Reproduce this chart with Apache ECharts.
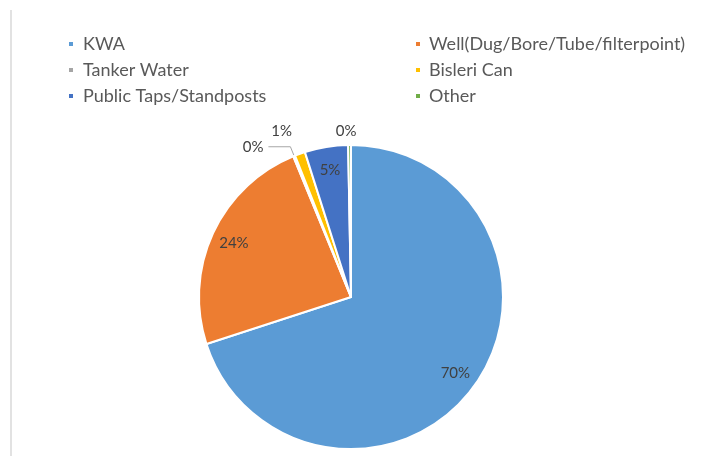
<!DOCTYPE html>
<html>
<head>
<meta charset="utf-8">
<script src="https://cdn.jsdelivr.net/npm/echarts@6/dist/echarts.min.js"></script>
<style>
html,body{margin:0;padding:0;background:#fff;}
#chart{width:719px;height:456px;}
</style>
</head>
<body>
<div id="chart"></div>
<script>
var categories = ['KWA', 'Well(Dug/Bore/Tube/filterpoint)', 'Tanker Water', 'Bisleri Can', 'Public Taps/Standposts', 'Other'];
var values = [70.0, 23.8, 0.2, 1.1, 4.6, 0.3];
var colors = ['#5B9BD5', '#ED7D31', '#A5A5A5', '#FFC000', '#4472C4', '#70AD47'];
var legendCol1 = ['KWA', 'Tanker Water', 'Public Taps/Standposts'];
var legendCol2 = ['Well(Dug/Bore/Tube/filterpoint)', 'Bisleri Can', 'Other'];

var FONT = 'Lato';
function pct(p) { return Math.round(p.percent) + '%'; }

// outside-label settings for the small slices (by index)
var outsideCfg = {
  2: { len: 10, len2: 22, line: true, dist: 5 },
  3: { len: 24, len2: 0, line: false, dist: 0 },
  5: { len: 14, len2: 0, line: false, dist: -7 }
};

var mainData = categories.map(function (c, i) {
  var cfg = outsideCfg[i];
  var item = { name: c, value: values[i], itemStyle: { color: colors[i] } };
  if (cfg) {
    item.label = { show: true, position: 'outside', distanceToLabelLine: cfg.dist };
    item.labelLine = { show: cfg.line, length: cfg.len, length2: cfg.len2 };
  } else {
    item.label = { show: false };
    item.labelLine = { show: false };
  }
  return item;
});

var overlayData = categories.map(function (c, i) {
  return { name: c, value: values[i], label: { show: !outsideCfg[i] } };
});

var chart = echarts.init(document.getElementById('chart'), null, { renderer: 'canvas' });
var legendBase = {
  orient: 'vertical', icon: 'rect', itemWidth: 6, itemHeight: 6, itemGap: 8,
  padding: 0, top: 35, selectedMode: false,
  textStyle: { fontFamily: FONT, fontSize: 18, lineHeight: 18, color: '#595959' }
};
chart.setOption({
  animation: false,
  backgroundColor: '#ffffff',
  color: colors,
  graphic: [{
    type: 'line', shape: { x1: 11, y1: 10, x2: 11, y2: 456 },
    style: { stroke: '#d9d9d9', lineWidth: 1.5 }, silent: true
  }],
  legend: [
    Object.assign({}, legendBase, { left: 67, data: legendCol1,
      textStyle: Object.assign({}, legendBase.textStyle, { padding: [0, 0, 0, 4] }) }),
    Object.assign({}, legendBase, { left: 414, data: legendCol2,
      textStyle: Object.assign({}, legendBase.textStyle, { padding: [0, 0, 0, 3] }) })
  ],
  series: [{
    type: 'pie',
    name: 'main',
    center: [351, 297],
    radius: 152,
    startAngle: 90,
    clockwise: true,
    avoidLabelOverlap: false,
    itemStyle: { borderColor: '#ffffff', borderWidth: 2 },
    label: { formatter: pct, fontFamily: FONT, fontSize: 15, color: '#404040' },
    labelLine: { lineStyle: { color: '#A6A6A6', width: 1 }, smooth: false },
    emphasis: { disabled: true },
    data: mainData
  }, {
    type: 'pie',
    name: 'labels',
    center: [351, 297],
    radius: [100, 152],
    startAngle: 90,
    clockwise: true,
    silent: true,
    avoidLabelOverlap: false,
    itemStyle: { color: 'rgba(0,0,0,0)', borderWidth: 0 },
    label: { position: 'inside', formatter: pct, fontFamily: FONT, fontSize: 15, color: '#404040' },
    labelLine: { show: false },
    emphasis: { disabled: true },
    data: overlayData
  }]
});
</script>
</body>
</html>
